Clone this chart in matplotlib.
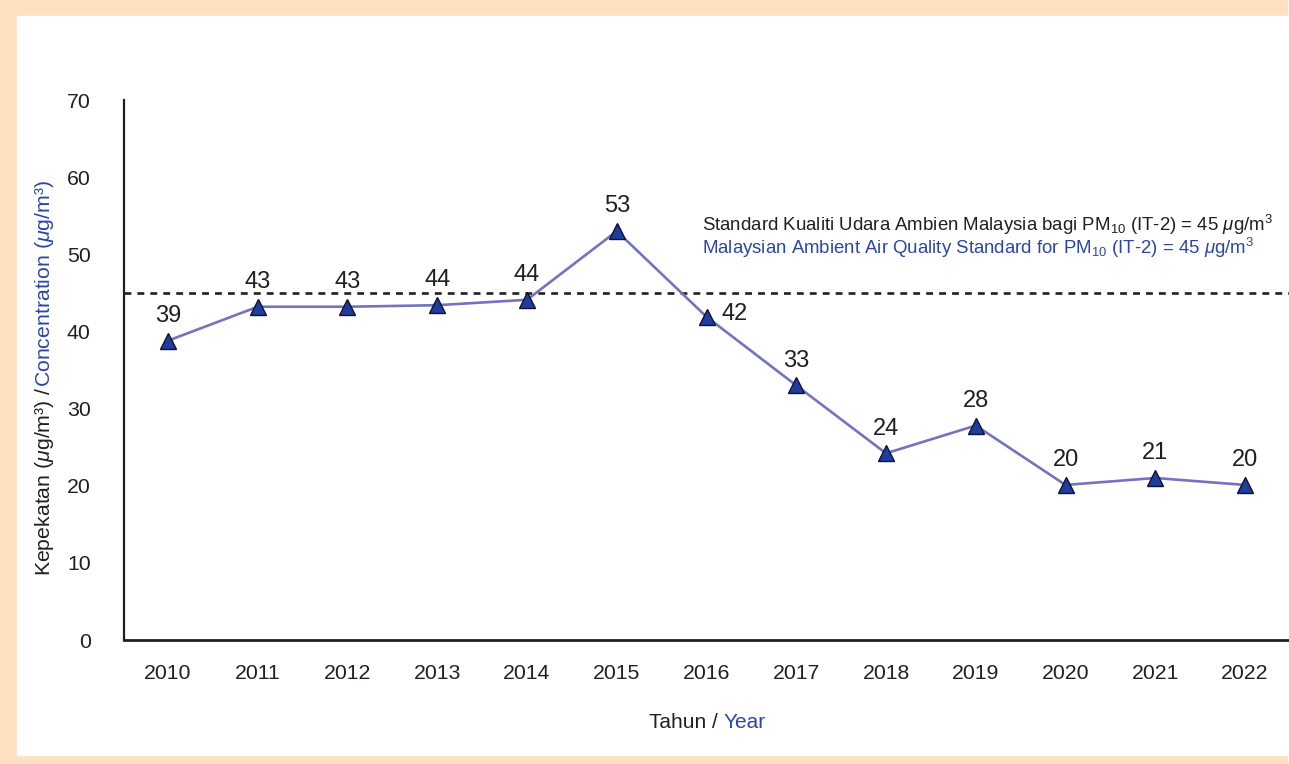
"""
PM10 purata tahunan 2010-2022
"""
import matplotlib
matplotlib.use("Agg")
from matplotlib import pyplot as plt
from matplotlib.transforms import IdentityTransform
from matplotlib.patches import Rectangle

# data
years = [2010, 2011, 2012, 2013, 2014, 2015, 2016, 2017, 2018, 2019, 2020, 2021, 2022]
pm10 = [38.8, 43.2, 43.2, 43.4, 44.1, 53.0, 41.9, 33.0, 24.2, 27.8, 20.1, 21.0, 20.1]
labels = ["39", "43", "43", "44", "44", "53", "42", "33", "24", "28", "20", "21", "20"]
standard = 45

plt.rcParams['font.family'] = ['Liberation Sans', 'DejaVu Sans']
plt.rcParams['mathtext.fontset'] = 'custom'
plt.rcParams['mathtext.rm'] = 'Liberation Sans'
plt.rcParams['mathtext.it'] = 'Liberation Sans:italic'

BLUE = '#2b47a6'
DARK = '#231f20'
W, H = 1289, 764

fig = plt.figure(figsize=(W / 100, H / 100), dpi=100)
fig.patches.append(Rectangle((0, 0), 1287 / W, 1, transform=fig.transFigure, color='#fde0c0', zorder=0))
fig.patches.append(Rectangle((17 / W, 9 / H), 1 - 17 / W, 1 - 25 / H, transform=fig.transFigure, color='white', zorder=0))

ax = fig.add_axes([124 / W, 1 - 640 / H, 1 - 124 / W, (640 - 100) / H])
ax.set_zorder(2)
ax.set_facecolor('none')
x = list(range(len(years)))
ax.plot(x, pm10, color='#7373c0', lw=1.9, marker='^', ms=11,
        markerfacecolor='#1f3d9c', markeredgecolor='#111133', markeredgewidth=1, zorder=3)
ax.axhline(standard, color=DARK, lw=1.9, linestyle=(0, (2.6, 2.3)), zorder=2)

for i, (v, s) in enumerate(zip(pm10, labels)):
    if years[i] == 2016:
        ax.annotate(s, (i, v), xytext=(11, 2), textcoords='offset points',
                    ha='left', va='center', fontsize=17, color=DARK)
    else:
        ax.annotate(s, (i, v), xytext=(0, 13.5), textcoords='offset points',
                    ha='center', va='baseline', fontsize=17, color=DARK)

ax.set_xlim(-0.49, 12.49)
ax.set_ylim(0, 70)
ax.set_xticks(x)
ax.set_xticklabels([str(y) for y in years])
ax.set_yticks(range(0, 71, 10))
ax.tick_params(length=0, labelsize=15.3, colors=DARK)
ax.tick_params(axis='y', pad=24)
ax.tick_params(axis='x', pad=17)
for side in ['top', 'right']:
    ax.spines[side].set_visible(False)
ax.spines['left'].set_linewidth(1.6)
ax.spines['bottom'].set_linewidth(2)
ax.spines['left'].set_color(DARK)
ax.spines['bottom'].set_color(DARK)

# legend text for the standard line
fig.text(702, H - 231, r"Standard Kualiti Udara Ambien Malaysia bagi PM$_{\mathrm{10}}$ (IT-2) = 45 $\mathit{μ}$g/m$^{\mathrm{3}}$",
         transform=IdentityTransform(), fontsize=13.4, color=DARK, ha='left', va='baseline', zorder=3)
fig.text(702, H - 254, r"Malaysian Ambient Air Quality Standard for PM$_{\mathrm{10}}$ (IT-2) = 45 $\mathit{μ}$g/m$^{\mathrm{3}}$",
         transform=IdentityTransform(), fontsize=13.4, color=BLUE, ha='left', va='baseline', zorder=3)


def pieces(cx, cy, parts, rotation=0, size=14):
    # write coloured pieces one after another, centred on (cx, cy)
    r = fig.canvas.get_renderer()
    texts = []
    for s, c in parts:
        t = fig.text(0, 0, s, transform=IdentityTransform(), fontsize=size, color=c,
                     rotation=rotation, rotation_mode='anchor', ha='left', va='baseline', zorder=3)
        texts.append(t)
    lens = []
    for t in texts:
        bb = t.get_window_extent(r)
        lens.append(bb.height if rotation else bb.width)
    pos = -sum(lens) / 2
    for t, l in zip(texts, lens):
        if rotation:
            t.set_position((cx, cy + pos))
        else:
            t.set_position((cx + pos, cy))
        pos += l


pieces(707, 36, [("Tahun / ", DARK), ("Year", BLUE)], size=15)
pieces(50, H - 378, [(r"Kepekatan ($\mathit{μ}$g/m³) / ", DARK),
                     (r"Concentration ($\mathit{μ}$g/m³)", BLUE)], rotation=90, size=15.3)

plt.savefig("out.png", dpi=100)
